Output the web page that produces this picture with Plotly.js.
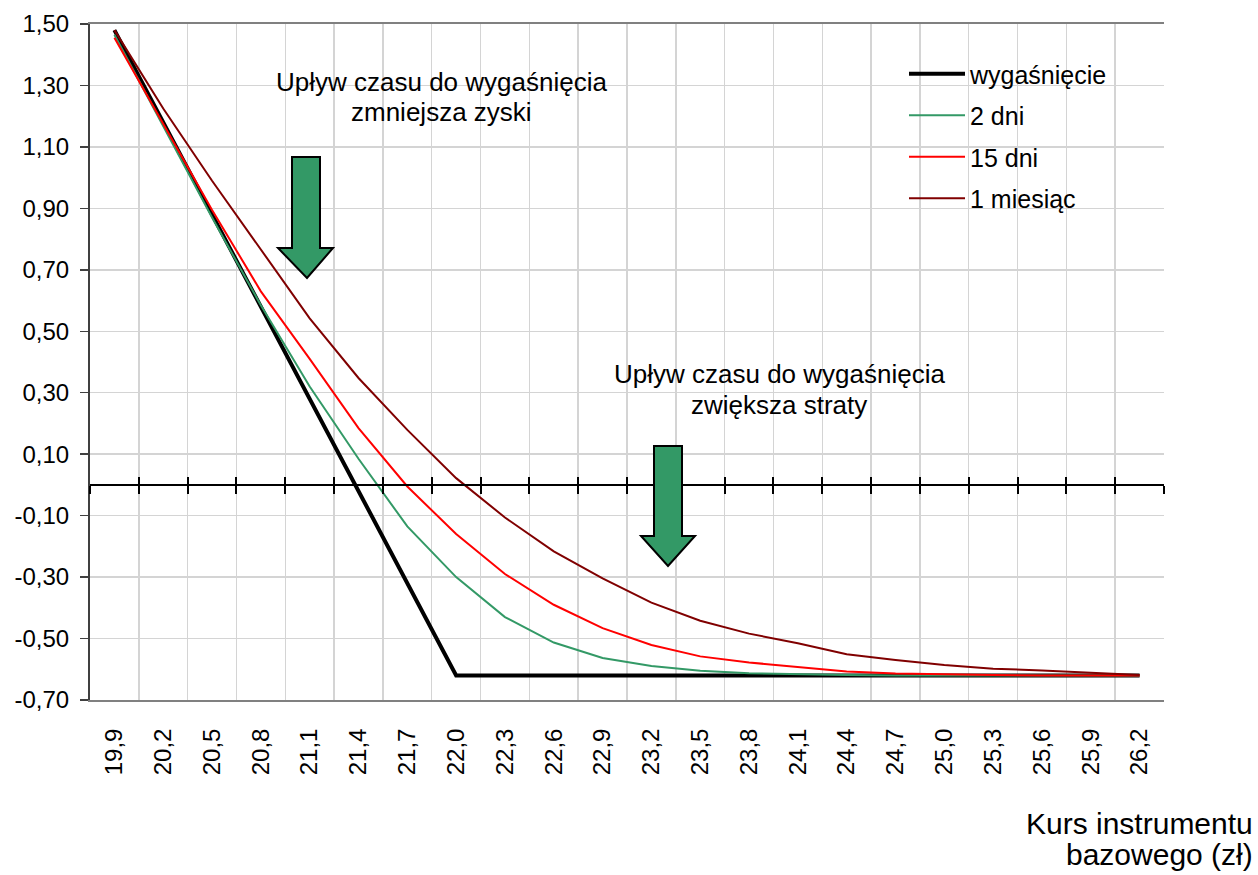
<!DOCTYPE html>
<html>
<head>
<meta charset="utf-8">
<script src="https://cdn.plot.ly/plotly-3.0.1.min.js"></script>
<style>html,body{margin:0;padding:0;background:#fff;}#chart{width:1258px;height:875px;}</style>
</head>
<body>
<div id="chart"></div>
<script>
// Underlying price categories (x axis)
const categories = ['19,9','20,2','20,5','20,8','21,1','21,4','21,7','22,0','22,3','22,6','22,9',
                    '23,2','23,5','23,8','24,1','24,4','24,7','25,0','25,3','25,6','25,9','26,2'];

// Series values
const expiry  = [1.48, 1.18, 0.88, 0.58, 0.28, -0.02, -0.32, -0.62, -0.62, -0.62, -0.62,
                 -0.62, -0.62, -0.62, -0.62, -0.62, -0.62, -0.62, -0.62, -0.62, -0.62, -0.62];
const days2   = [1.465, 1.165, 0.87, 0.585, 0.32, 0.085, -0.135, -0.30, -0.43, -0.513, -0.563,
                 -0.589, -0.605, -0.613, -0.617, -0.619, -0.62, -0.62, -0.62, -0.62, -0.62, -0.62];
const days15  = [1.455, 1.175, 0.895, 0.63, 0.41, 0.185, -0.005, -0.16, -0.29, -0.39, -0.466,
                 -0.521, -0.558, -0.578, -0.593, -0.607, -0.614, -0.617, -0.619, -0.62, -0.62, -0.62];
const month1  = [1.48, 1.225, 0.99, 0.765, 0.542, 0.348, 0.179, 0.022, -0.106, -0.216, -0.304,
                 -0.383, -0.442, -0.484, -0.515, -0.551, -0.57, -0.586, -0.598, -0.604, -0.611, -0.619];

// Y tick values and labels (hyphen-minus, decimal comma as in the original)
const yTickVals   = [-0.7, -0.5, -0.3, -0.1, 0.1, 0.3, 0.5, 0.7, 0.9, 1.1, 1.3, 1.5];
const yTickLabels = ['-0,70','-0,50','-0,30','-0,10','0,10','0,30','0,50','0,70','0,90','1,10','1,30','1,50'];

const seriesNames = ['wygaśnięcie', '2 dni', '15 dni', '1 miesiąc'];
const seriesColors = ['#000000', '#339966', '#ff0000', '#800000'];
const seriesWidths = [4, 2, 2, 2];
const seriesData = [expiry, days2, days15, month1];

const FONT = 'Liberation Sans, Arial, sans-serif';

const traces = seriesData.map((vals, i) => ({
  type: 'scatter',
  mode: 'lines',
  x: categories,
  y: vals,
  name: seriesNames[i],
  legendgroup: 'g' + i,
  line: {color: seriesColors[i], width: seriesWidths[i]},
  hoverinfo: 'x+y+name'
}));
// empty helper traces so the zero-crossing axis (x2 / x3) is drawn
traces.push({type: 'scatter', mode: 'lines', x: [], y: [], xaxis: 'x2', yaxis: 'y',
             showlegend: false, hoverinfo: 'skip'});
traces.push({type: 'scatter', mode: 'lines', x: [], y: [], xaxis: 'x3', yaxis: 'y',
             showlegend: false, hoverinfo: 'skip'});

// plot area geometry helpers (paper coords)
const L = 90, R = 1164, T = 24, B = 700;
const px = x => (x - L) / (R - L);
const py = y => (B - y) / (B - T);
function poly(pts) {
  return 'M' + pts.map(p => px(p[0]).toFixed(5) + ',' + py(p[1]).toFixed(5)).join('L') + 'Z';
}
const arrow1 = [[292,157],[320,157],[320,248],[333,248],[307,278],[278,248],[292,248]];
const arrow2 = [[654,446],[682,446],[682,536],[695,536],[668,566],[641,536],[654,536]];

const zeroPos = (0 - (-0.7)) / (1.5 - (-0.7));

function note(x, y, text, size, xanchor) {
  return {xref: 'paper', yref: 'paper', x: px(x), y: py(y), xanchor: xanchor || 'center',
          yanchor: 'middle', text: text, showarrow: false, align: xanchor === 'right' ? 'right' : 'center',
          font: {family: FONT, size: size, color: '#000'}};
}

const layout = {
  width: 1258, height: 875,
  margin: {l: L, r: 1258 - R, t: T, b: 875 - B, pad: 0},
  paper_bgcolor: '#ffffff',
  plot_bgcolor: '#ffffff',
  separators: ', ',
  font: {family: FONT, size: 24, color: '#000000'},
  showlegend: true,
  legend: {
    x: px(904), y: py(51), xanchor: 'left', yanchor: 'top',
    bgcolor: 'rgba(0,0,0,0)', borderwidth: 0,
    font: {family: FONT, size: 25, color: '#000'},
    tracegroupgap: 6, itemwidth: 56, traceorder: 'grouped'
  },
  xaxis: {
    type: 'category',
    categoryorder: 'array', categoryarray: categories,
    range: [-0.5, categories.length - 0.5],
    tickson: 'boundaries',
    showgrid: true, gridcolor: '#d4d4d4', gridwidth: 1.5,
    ticks: '', tickangle: -90,
    tickfont: {family: FONT, size: 24, color: '#000'},
    ticklabelstandoff: 17,
    showline: true, linecolor: '#808080', linewidth: 2, mirror: true,
    zeroline: false, fixedrange: true
  },
  xaxis2: {
    type: 'linear', overlaying: 'x', anchor: 'free', position: zeroPos,
    range: [-0.5, categories.length - 0.5], tick0: -0.5, dtick: 1, tickmode: 'linear',
    ticks: 'outside', ticklen: 8, tickwidth: 2, tickcolor: '#000',
    showline: true, linecolor: '#000', linewidth: 2,
    showticklabels: false, showgrid: false, zeroline: false, fixedrange: true
  },
  xaxis3: {
    type: 'linear', overlaying: 'x', anchor: 'free', position: zeroPos,
    range: [-0.5, categories.length - 0.5], tick0: -0.5, dtick: 1, tickmode: 'linear',
    ticks: 'inside', ticklen: 8, tickwidth: 2, tickcolor: '#000',
    showline: false,
    showticklabels: false, showgrid: false, zeroline: false, fixedrange: true
  },
  yaxis: {
    range: [-0.7, 1.5], tickmode: 'array', tickvals: yTickVals, ticktext: yTickLabels,
    ticks: 'outside', ticklen: 8, tickwidth: 1.5, tickcolor: '#404040',
    tickfont: {family: FONT, size: 24, color: '#000'},
    ticklabelstandoff: 6,
    showline: true, linecolor: '#404040', linewidth: 2, mirror: false,
    showgrid: true, gridcolor: '#d4d4d4', gridwidth: 1.5,
    zeroline: false, fixedrange: true
  },
  yaxis2: {
    overlaying: 'y', side: 'right', range: [-0.7, 1.5],
    showline: true, linecolor: '#808080', linewidth: 2,
    ticks: '', showticklabels: false, showgrid: false, zeroline: false, fixedrange: true
  },
  shapes: [
    {type: 'rect', xref: 'paper', yref: 'paper', x0: px(242), x1: px(640), y0: py(138), y1: py(53),
     fillcolor: '#ffffff', line: {width: 0}, layer: 'between'},
    {type: 'rect', xref: 'paper', yref: 'paper', x0: px(580), x1: px(978), y0: py(433), y1: py(347),
     fillcolor: '#ffffff', line: {width: 0}, layer: 'between'},
    {type: 'rect', xref: 'paper', yref: 'paper', x0: px(897), x1: px(1120), y0: py(222), y1: py(53),
     fillcolor: '#ffffff', line: {width: 0}, layer: 'between'},
    {type: 'path', xref: 'paper', yref: 'paper', path: poly(arrow1),
     fillcolor: '#339966', line: {color: '#000', width: 2}, layer: 'above'},
    {type: 'path', xref: 'paper', yref: 'paper', path: poly(arrow2),
     fillcolor: '#339966', line: {color: '#000', width: 2}, layer: 'above'}
  ],
  annotations: [
    note(441, 82, 'Upływ czasu do wygaśnięcia', 26),
    note(441, 112, 'zmniejsza zyski', 26),
    note(779, 374, 'Upływ czasu do wygaśnięcia', 26),
    note(779, 405, 'zwiększa straty', 26),
    note(1255, 823, 'Kurs instrumentu', 30, 'right'),
    note(1255, 854, 'bazowego (zł)', 30, 'right')
  ]
};

Plotly.newPlot('chart', traces, layout, {displayModeBar: false, staticPlot: true});
</script>
</body>
</html>
